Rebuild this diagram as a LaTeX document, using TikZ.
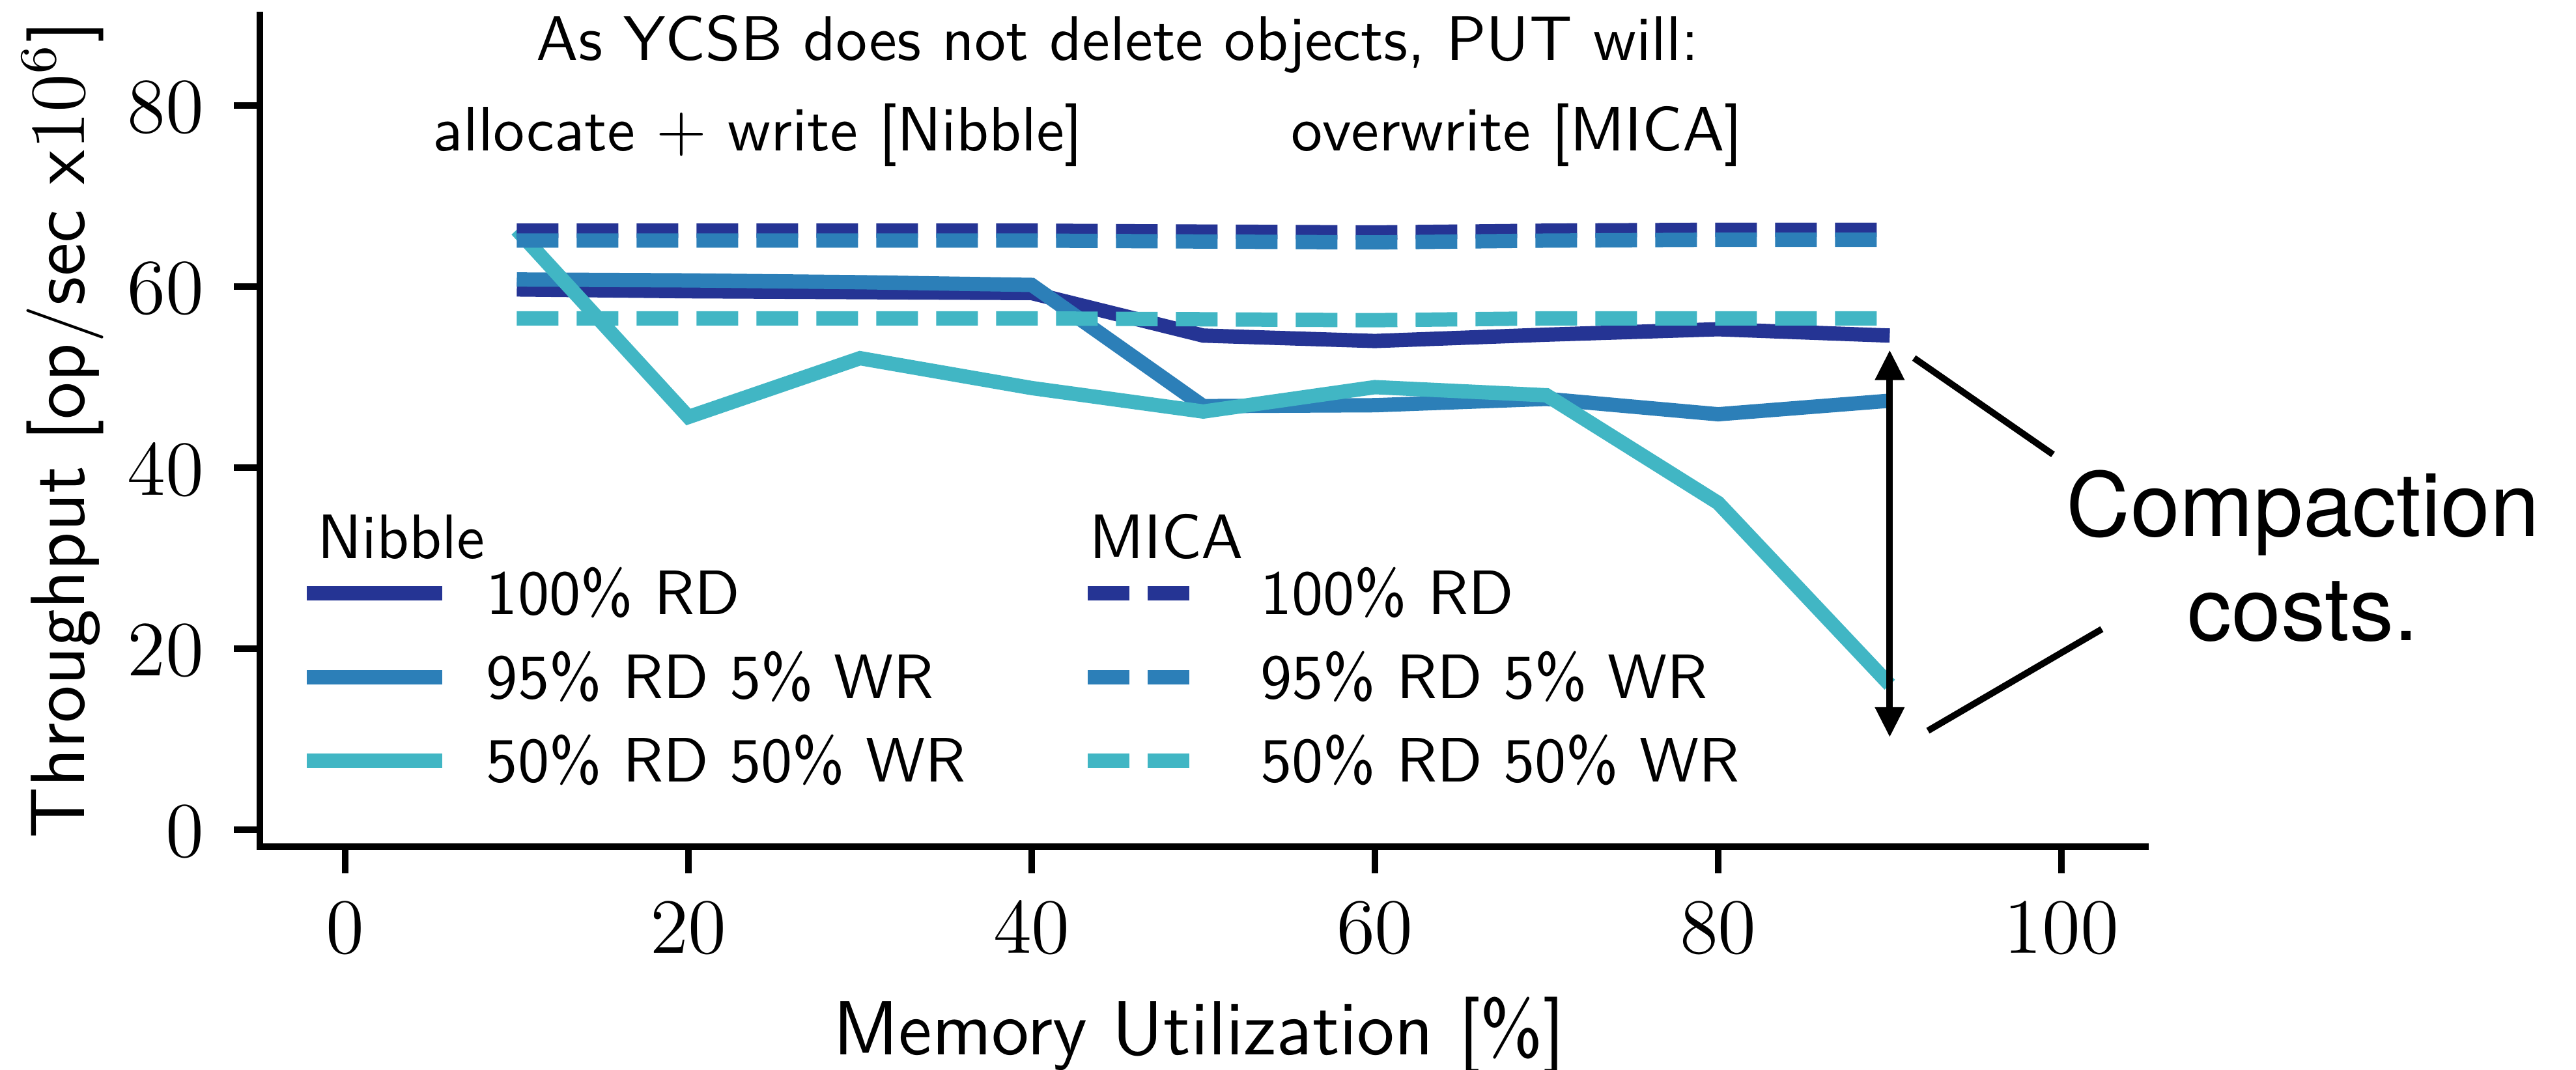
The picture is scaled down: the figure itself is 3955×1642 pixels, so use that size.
\documentclass[tikz,border=0pt]{standalone}
\usepackage{fontspec}
\newfontfamily\helv{TeX Gyre Heros}
\usetikzlibrary{arrows.meta}
\definecolor{serA}{HTML}{253494}
\definecolor{serB}{HTML}{2C7FB8}
\definecolor{serC}{HTML}{41B6C4}
\tikzset{
  txt/.style={inner sep=0pt, font=\fontsize{9.65}{11}\sffamily},
  axlabel/.style={inner sep=0pt, font=\fontsize{11.8}{14}\sffamily},
  ticklab/.style={inner sep=0pt, font=\fontsize{12}{14}\rmfamily},
  spine/.style={line width=1pt, line join=miter},
  tickmark/.style={line width=1pt},
  series/.style={line width=2.2pt, line join=miter},
  mica/.style={series, dash pattern=on 6.4pt off 2.8pt},
  annot/.style={line width=1pt},
}
\begin{document}
\begin{tikzpicture}[x=0.1pt,y=-0.1pt]
\useasboundingbox (0,0) rectangle (3955,1642);

% axes
\coordinate (ytop) at (399,18);
\coordinate (orig) at (399,1300);
\coordinate (xend) at (3299,1300);
\draw[spine] (ytop) -- (orig) -- (xend);

\begin{scope}[shift={(530,1273.6)}, x=2.635pt, y=1.389pt]
  % x ticks
  \foreach \u in {0,20,...,100}{
    \coordinate (xt\u) at (\u,-1.9);
    \draw[tickmark] (xt\u) -- ++(0,-2.95);
    \node[ticklab, anchor=base] (xl\u) at (\u,-13.7) {\u};
  }
  % y ticks
  \foreach \v in {0,20,...,80}{
    \coordinate (yt\v) at (-4.97,\v);
    \draw[tickmark] (yt\v) -- ++(-1.52,0);
    \node[ticklab, anchor=east] (yl\v) at (-8.15,\v-0.2) {\v};
  }

  % Nibble
  \draw[series, serA] (10,59.7) -- (20,59.5) -- (30,59.4) -- (40,59.3) -- (50,54.6)
     -- (60,54.0) -- (70,54.7) -- (80,55.3) -- (90,54.6);
  \draw[series, serB] (10,60.8) -- (20,60.7) -- (30,60.5) -- (40,60.2) -- (50,46.8)
     -- (60,46.9) -- (70,47.6) -- (80,45.9) -- (90,47.4);
  \draw[series, serC] (10,66.3) -- (20,45.6) -- (30,52.1) -- (40,48.8) -- (50,46.2)
     -- (60,48.9) -- (70,48.0) -- (80,36.1) -- (90,16.0);
  % MICA
  \draw[mica, serA] (10,66.2) -- (20,66.2) -- (30,66.2) -- (40,66.2) -- (50,66.1)
     -- (60,66.0) -- (70,66.2) -- (80,66.3) -- (90,66.3);
  \draw[mica, serB] (10,65.1) -- (20,65.1) -- (30,65.1) -- (40,65.1) -- (50,65.0)
     -- (60,64.9) -- (70,65.1) -- (80,65.2) -- (90,65.2);
  \draw[mica, serC] (10,56.5) -- (20,56.5) -- (30,56.5) -- (40,56.5) -- (50,56.4)
     -- (60,56.3) -- (70,56.5) -- (80,56.5) -- (90,56.5);

  % compaction gap arrow
  \coordinate (gaptop) at (90,53);
  \coordinate (gapbot) at (90,10.2);
\end{scope}
\draw[annot, {Triangle[length=4.6pt,width=4.3pt]}-{Triangle[length=4.6pt,width=4.3pt]}] (gaptop) -- (gapbot);

% annotation
\node[inner sep=0pt, anchor=base, font=\fontsize{13.6}{16}\helv] (comp) at (3536,823) {Compaction};
\node[inner sep=0pt, anchor=base, font=\fontsize{13.6}{16}\helv] (costs) at (3536,983) {costs.};
\coordinate (l1a) at (2938.6,549.7);
\coordinate (l1b) at (3152,697.8);
\coordinate (l2a) at (2960,1122);
\coordinate (l2b) at (3227,966);
\draw[annot] (l1a) -- (l1b);
\draw[annot] (l2a) -- (l2b);

% header text
\node[txt, anchor=base] (head) at (1716,92) {As YCSB does not delete objects, PUT will:};
\node[txt, anchor=base west] (nib) at (663,231) {allocate $+$ write [Nibble]};
\node[txt, anchor=base west] (mic) at (1980,231) {overwrite [MICA]};

% legend
\node[txt, anchor=base west] (legN) at (485,857) {Nibble};
\node[txt, anchor=base west] (legM) at (1670,857) {MICA};
\foreach \row/\col/\lab [count=\i] in {911/serA/100\% RD, 1040/serB/95\% RD 5\% WR, 1168/serC/50\% RD 50\% WR}{
  \coordinate (na\i) at (471,\row);
  \coordinate (nb\i) at (679,\row);
  \draw[series, \col] (na\i) -- (nb\i);
  \node[txt, anchor=base west] (nt\i) at (745,\row+32) {\lab};
  \coordinate (ma\i) at (1670,\row);
  \coordinate (mb\i) at (1826,\row);
  \draw[mica, \col] (ma\i) -- (mb\i);
  \node[txt, anchor=base west] (mt\i) at (1933,\row+32) {\lab};
}

% axis labels
\node[axlabel, anchor=base, rotate=90] (ylab) at (129,660) {Throughput [op/sec x$10^6$]};
\node[axlabel, anchor=base] (xlab) at (1841,1619) {Memory Utilization [\%]};
\end{tikzpicture}
\end{document}
